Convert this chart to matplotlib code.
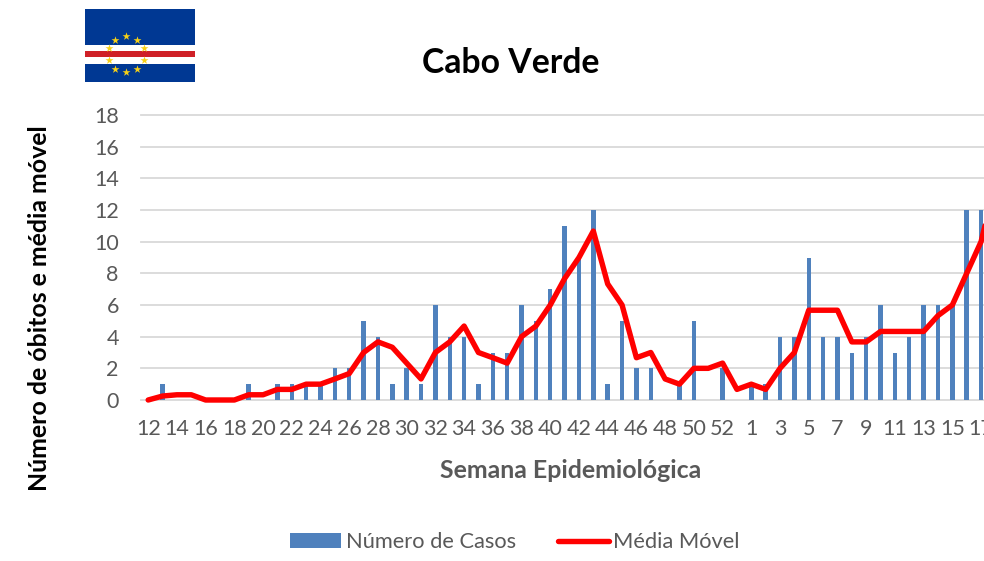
import matplotlib
matplotlib.use("Agg")
from matplotlib import pyplot as plt
from matplotlib.patches import Rectangle

plt.rcParams["font.family"] = ["Lato", "DejaVu Sans"]

weeks = list(range(12, 54)) + list(range(1, 19))

casos = [0, 1, 0, 0, 0, 0, 0, 1, 0, 1, 1, 1, 1, 2, 2, 5, 4, 1, 2, 1, 6,
         4, 4, 1, 3, 3, 6, 5, 7, 11, 9, 12, 1, 5, 2, 2, 0, 1, 5, 0, 2, 0,
         1, 1, 4, 4, 9, 4, 4, 3, 4, 6, 3, 4, 6, 6, 6, 12, 12, 12]

media = [0, 0.25, 0.33, 0.33, 0, 0, 0, 0.33, 0.33, 0.67, 0.67, 1, 1, 1.33,
         1.67, 3, 3.67, 3.33, 2.33, 1.33, 3, 3.67, 4.67, 3, 2.67, 2.33, 4,
         4.67, 6, 7.67, 9, 10.67, 7.33, 6, 2.67, 3, 1.33, 1, 2, 2, 2.33, 0.67,
         1, 0.67, 2, 3, 5.67, 5.67, 5.67, 3.67, 3.67, 4.33, 4.33, 4.33, 4.33,
         5.33, 6, 8, 10, 13.67]

yticks = list(range(0, 20, 2))

W, H = 984, 561
fig = plt.figure(figsize=(W / 100, H / 100), dpi=100)

# plot area in pixels, right side runs off the picture like the original
left, right, top, bottom = 141, 984, 115, 400
ax = fig.add_axes([left / W, 1 - bottom / H, (right - left) / W, (bottom - top) / H])

x = list(range(len(weeks)))
bars = ax.bar(x, casos, width=0.31, color="#4f81bd", label="Número de Casos", zorder=2)
line, = ax.plot(x, media, color="#ff0000", lw=3.9, solid_joinstyle="round",
                solid_capstyle="round", label="Média Móvel", zorder=3, clip_on=False)

ax.set_xlim(-0.5, -0.5 + (right - left) / 14.36)
ax.set_ylim(0, 18)
ax.set_yticks(yticks)
ax.set_xticks(x[::2])
ax.set_xticklabels(weeks[::2])
ax.tick_params(length=0, labelsize=15.5, labelcolor="#595959")
ax.tick_params(axis="x", pad=14)
ax.tick_params(axis="y", pad=16)
ax.grid(axis="y", color="#d9d9d9", lw=1.3, zorder=0)
ax.set_axisbelow(True)
for gl in ax.get_ygridlines():
    gl.set_clip_on(False)
for s in ax.spines.values():
    s.set_visible(False)

fig.text(511 / W, 1 - 63 / H, "Cabo Verde", fontsize=24.3, fontweight="bold",
         color="black", ha="center", va="center")
fig.text(571 / W, 1 - 471 / H, "Semana Epidemiológica", fontsize=17.9, fontweight="bold",
         color="#595959", ha="center", va="center")
fig.text(40 / W, 1 - 308 / H, "Número de óbitos e média móvel", fontsize=17.9,
         fontweight="bold", color="black", rotation=90, ha="center", va="center")

fig.legend(handles=[bars, line], loc="center", bbox_to_anchor=(515 / W, 1 - 542 / H),
           ncol=2, frameon=False, fontsize=15.75, labelcolor="#595959", handlelength=2.33,
           handleheight=0.65, handletextpad=0.22, columnspacing=1.9)

# flag, drawn in pixel coordinates
fl = fig.add_axes([85 / W, 1 - 82 / H, 110 / W, 73 / H])
fl.set_xlim(85, 195)
fl.set_ylim(82, 9)
fl.axis("off")
fl.add_patch(Rectangle((85, 9), 110, 73, color="#003893", lw=0))
fl.add_patch(Rectangle((85, 45), 110, 18.5, color="white", lw=0))
fl.add_patch(Rectangle((85, 51), 110, 6.2, color="#cf2027", lw=0))
star_x = [115, 126, 137, 108.5, 143.5, 108.5, 143.5, 115, 126, 137]
star_y = [39.5, 36, 39.5, 48, 48, 60, 60, 69, 72, 69]
fl.scatter(star_x, star_y, marker="*", s=36, color="#f7d116", lw=0, zorder=3)

fig.savefig("out.png", dpi=100)
